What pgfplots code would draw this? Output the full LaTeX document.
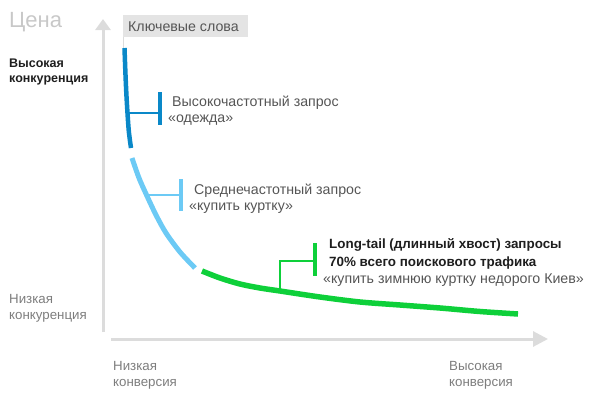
\documentclass[border=0pt]{standalone}
\usepackage{pgfplots}
\pgfplotsset{compat=1.18}
\usepackage{fontspec}
\setmainfont{Liberation Sans}
\usetikzlibrary{arrows.meta}
\definecolor{dblue}{RGB}{10,136,200}
\definecolor{lblue}{RGB}{108,202,245}
\definecolor{lgreen}{RGB}{14,208,58}
\definecolor{axgrey}{RGB}{220,220,220}
\definecolor{boxgrey}{RGB}{228,228,228}
\definecolor{txtgrey}{RGB}{85,85,85}
\definecolor{lowgrey}{RGB}{125,125,125}
\definecolor{headgrey}{RGB}{200,200,200}
\definecolor{dark}{RGB}{30,30,30}
\begin{document}
\begin{tikzpicture}
\begin{axis}[x=1pt,y=1pt,y dir=reverse,xmin=0,xmax=599,ymin=0,ymax=399,
  hide axis,scale only axis,clip=false]
\path (axis cs:0,0) rectangle (axis cs:599,399);
% axes
\draw[axgrey,line width=3pt,-{Triangle[length=11pt,width=15pt]}] (axis cs:103,332) -- (axis cs:103,19);
\draw[axgrey,line width=3pt,-{Triangle[length=15pt,width=15pt]}] (axis cs:111,339) -- (axis cs:548,339);
% keyword box
\fill[boxgrey] (axis cs:123,15) rectangle (axis cs:248,37);
\node[anchor=base west,inner sep=0,text=txtgrey,font=\fontsize{14.2}{16}\selectfont] at (axis cs:128,31) {Ключевые слова};
\draw[axgrey,line width=1pt] (axis cs:123.5,37) -- (axis cs:123.5,48);
% curve segments
\addplot[dblue,line width=4.5pt,smooth] coordinates {(124.5,48) (125.5,75) (126.7,100) (128.7,130) (131,148)};
\addplot[lblue,line width=5pt,smooth] coordinates {(132,158) (139,178) (147,196) (156,215) (166,233) (180,252) (195,268)};
\addplot[lgreen,line width=5.5pt,smooth] coordinates {(202,271) (220,278) (240,284) (260,288) (280,291) (320,297) (360,302) (400,305) (440,308) (480,311.5) (518,314)};
% brackets
\addplot[dblue,line width=2pt] coordinates {(127.5,113) (160,113)};
\addplot[dblue,line width=3.5pt] coordinates {(160,92) (160,125)};
\addplot[lblue,line width=2pt] coordinates {(147,195) (181,195)};
\addplot[lblue,line width=3.5pt] coordinates {(181,179) (181,211)};
\addplot[lgreen,line width=2pt] coordinates {(280,291) (280,261) (315,261)};
\addplot[lgreen,line width=3.5pt] coordinates {(315,243) (315,276)};
% labels
\node[anchor=base west,inner sep=0,text=headgrey,font=\fontsize{22}{24}\selectfont] at (axis cs:9,27) {Цена};
\node[anchor=base west,inner sep=0,text=dark,font=\fontsize{12.5}{15}\selectfont\bfseries] at (axis cs:9,67) {Высокая};
\node[anchor=base west,inner sep=0,text=dark,font=\fontsize{12.5}{15}\selectfont\bfseries] at (axis cs:9,82) {конкуренция};
\node[anchor=base west,inner sep=0,text=txtgrey,font=\fontsize{14.2}{16}\selectfont] at (axis cs:172,106) {Высокочастотный запрос};
\node[anchor=base west,inner sep=0,text=txtgrey,font=\fontsize{14.2}{16}\selectfont] at (axis cs:168,122) {«одежда»};
\node[anchor=base west,inner sep=0,text=txtgrey,font=\fontsize{14.2}{16}\selectfont] at (axis cs:194,194) {Среднечастотный запрос};
\node[anchor=base west,inner sep=0,text=txtgrey,font=\fontsize{14.2}{16}\selectfont] at (axis cs:189,210) {«купить куртку»};
\node[anchor=base west,inner sep=0,text=dark,font=\fontsize{13.4}{15}\selectfont\bfseries] at (axis cs:329,248) {Long-tail (длинный хвост) запросы};
\node[anchor=base west,inner sep=0,text=dark,font=\fontsize{13.4}{15}\selectfont\bfseries] at (axis cs:329,266) {70\% всего поискового трафика};
\node[anchor=base west,inner sep=0,text=txtgrey,font=\fontsize{14.2}{16}\selectfont] at (axis cs:323,283) {«купить зимнюю куртку недорого Киев»};
\node[anchor=base west,inner sep=0,text=lowgrey,font=\fontsize{13.3}{15}\selectfont] at (axis cs:9,303) {Низкая};
\node[anchor=base west,inner sep=0,text=lowgrey,font=\fontsize{13.3}{15}\selectfont] at (axis cs:9,319) {конкуренция};
\node[anchor=base west,inner sep=0,text=lowgrey,font=\fontsize{13.3}{15}\selectfont] at (axis cs:113,370) {Низкая};
\node[anchor=base west,inner sep=0,text=lowgrey,font=\fontsize{13.3}{15}\selectfont] at (axis cs:113,386) {конверсия};
\node[anchor=base west,inner sep=0,text=lowgrey,font=\fontsize{13.3}{15}\selectfont] at (axis cs:449,370) {Высокая};
\node[anchor=base west,inner sep=0,text=lowgrey,font=\fontsize{13.3}{15}\selectfont] at (axis cs:449,386) {конверсия};
\end{axis}
\end{tikzpicture}
\end{document}
